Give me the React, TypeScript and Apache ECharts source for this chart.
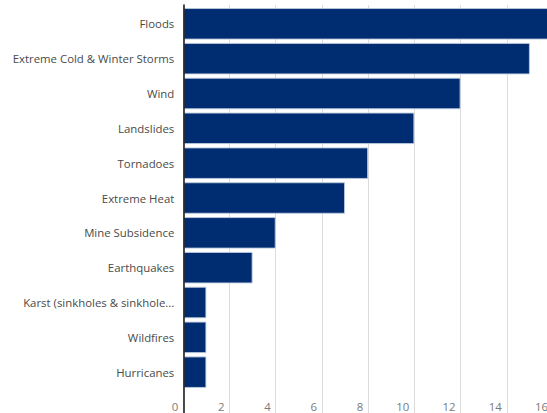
import React, { useEffect, useRef } from "react";
import * as echarts from "echarts";

// Hazard categories, top to bottom
const categories: string[] = [
  "Floods",
  "Extreme Cold & Winter Storms",
  "Wind",
  "Landslides",
  "Tornadoes",
  "Extreme Heat",
  "Mine Subsidence",
  "Earthquakes",
  "Karst (sinkholes & sinkhole...",
  "Wildfires",
  "Hurricanes",
];

// Count per hazard
const counts: number[] = [16, 15, 12, 10, 8, 7, 4, 3, 1, 1, 1];

// Value-axis scale
const xMin = 0;
const xMax = 16;
const xStep = 2;

const FONT = "'Open Sans', 'Noto Sans', sans-serif";

// The plot runs a little past the right edge of the visible frame
const FRAME_W = 547;
const FRAME_H = 413;
const CANVAS_W = 560;

export default function App() {
  const ref = useRef<HTMLDivElement>(null);

  useEffect(() => {
    if (!ref.current) return;
    const chart = echarts.init(ref.current, null, { renderer: "svg" });
    chart.setOption({
      animation: false,
      backgroundColor: "#ffffff",
      grid: [
        // frame grid: gridlines, value ticks and the left axis line
        { left: 183.3, right: 7, top: 5, bottom: 0 },
        // bar grid
        { left: 183.3, right: 7, top: 6.4, bottom: 23.4 },
      ],
      xAxis: [
        {
          type: "value",
          gridIndex: 0,
          min: xMin,
          max: xMax,
          interval: xStep,
          axisLine: { show: false },
          axisTick: { show: false },
          splitLine: { show: true, lineStyle: { color: "#dcdcdc", width: 1 } },
          axisLabel: {
            inside: true,
            margin: 1,
            align: "right",
            padding: [0, 5, 0, 0],
            fontFamily: FONT,
            fontSize: 11.4,
            color: "#7a7a7a",
          },
        },
        {
          type: "value",
          gridIndex: 1,
          min: xMin,
          max: xMax,
          show: false,
        },
      ],
      yAxis: [
        {
          type: "value",
          gridIndex: 0,
          z: 5,
          axisLine: { show: true, lineStyle: { color: "#222222", width: 1.6 } },
          axisTick: { show: false },
          axisLabel: { show: false },
          splitLine: { show: false },
        },
        {
          type: "category",
          gridIndex: 1,
          inverse: true,
          data: categories,
          axisLine: { show: false },
          axisTick: { show: false },
          splitLine: { show: false },
          axisLabel: {
            margin: 9,
            fontFamily: FONT,
            fontSize: 11.4,
            color: "#4a4a4a",
          },
        },
      ],
      series: [
        {
          type: "bar",
          xAxisIndex: 1,
          yAxisIndex: 1,
          data: counts,
          barCategoryGap: "9.5%",
          itemStyle: {
            color: "#002d72",
            borderColor: "rgba(190, 202, 222, 0.9)",
            borderWidth: 1,
          },
        },
      ],
    });
    return () => chart.dispose();
  }, []);

  return (
    <div
      style={{
        position: "fixed",
        left: 0,
        top: 0,
        width: FRAME_W,
        height: FRAME_H,
        overflow: "hidden",
        background: "#ffffff",
      }}
    >
      <div ref={ref} style={{ width: CANVAS_W, height: FRAME_H }} />
    </div>
  );
}
